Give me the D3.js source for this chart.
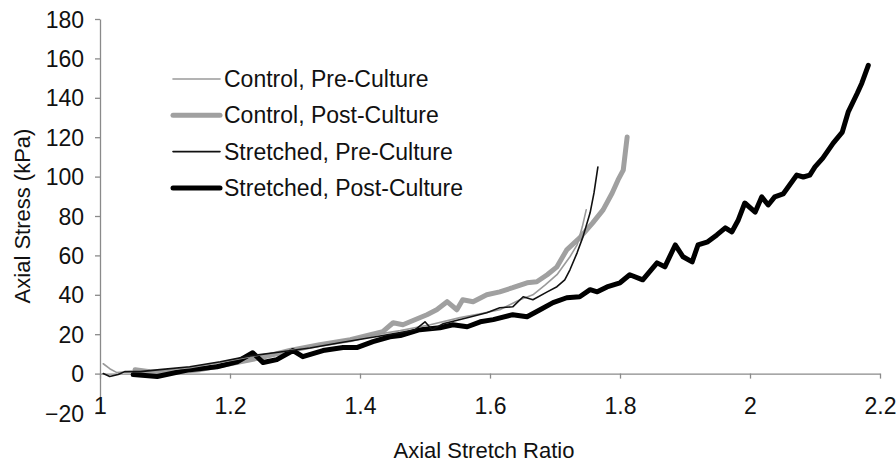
<!DOCTYPE html>
<html lang="en">
<head>
    <meta charset="utf-8">
    <title>Axial stress vs stretch</title>
    <style type="text/css">
        body { margin: 0; background: #fff; }
        .chart text {
            font-family: "Liberation Sans", Arial, sans-serif;
            font-size: 23px;
            fill: #111;
        }
        .chart .axis path, .chart .axis line {
            stroke: #8a8a8a;
            stroke-width: 1.3;
        }
        .chart .series {
            fill: none;
            stroke-linejoin: round;
            stroke-linecap: round;
        }
    </style>
</head>
<body>
<svg class="chart" width="896" height="466"></svg>
<script src="https://d3js.org/d3.v7.min.js"></script>
<script>
    // tick values
    var xTicks = [1, 1.2, 1.4, 1.6, 1.8, 2, 2.2];
    var yTicks = [-20, 0, 20, 40, 60, 80, 100, 120, 140, 160, 180];

    // series names (legend order)
    var seriesNames = ['Control, Pre-Culture', 'Control, Post-Culture', 'Stretched, Pre-Culture', 'Stretched, Post-Culture'];

    // Control, Pre-Culture
    var controlPreX = [1.005, 1.015, 1.026, 1.046, 1.092, 1.138, 1.185, 1.231, 1.277, 1.323, 1.369, 1.415, 1.462, 1.508, 1.554, 1.585, 1.615, 1.646, 1.666, 1.685, 1.703, 1.723, 1.734, 1.742, 1.748];
    var controlPreY = [5, 2.5, 0.5, 1, 1.5, 3, 5.6, 8.6, 11, 13.7, 16.7, 19.3, 21.8, 24.8, 28.4, 30.4, 32.4, 37.5, 40, 45, 50.2, 59.3, 65.3, 74.5, 83.1];

    // Control, Post-Culture
    var controlPostX = [1.054, 1.077, 1.108, 1.154, 1.2, 1.246, 1.292, 1.338, 1.385, 1.435, 1.451, 1.466, 1.477, 1.503, 1.518, 1.534, 1.549, 1.558, 1.574, 1.595, 1.615, 1.635, 1.657, 1.672, 1.688, 1.703, 1.718, 1.738, 1.758, 1.774, 1.788, 1.797, 1.805, 1.811];
    var controlPostY = [2, 1, 0.5, 2, 5, 8, 11.7, 14.7, 17.2, 21.3, 25.8, 24.8, 26.3, 29.9, 32.4, 36.5, 32.4, 37.5, 36.5, 40, 41.5, 43.6, 46.1, 46.6, 50.2, 54.2, 62.8, 68.9, 76.5, 83.1, 91.7, 98.3, 103.3, 120.1];

    // Stretched, Pre-Culture
    var stretchedPreX = [1.005, 1.015, 1.028, 1.038, 1.062, 1.092, 1.138, 1.185, 1.231, 1.277, 1.323, 1.369, 1.415, 1.462, 1.485, 1.5, 1.511, 1.528, 1.565, 1.595, 1.615, 1.635, 1.651, 1.666, 1.688, 1.703, 1.715, 1.723, 1.734, 1.743, 1.754, 1.76, 1.766];
    var stretchedPreY = [0, -1.5, -0.5, 1, 1, 2, 3.5, 6, 9, 11, 13, 15.7, 18.2, 20.8, 22.3, 26.3, 22.3, 25.3, 28.4, 30.9, 33.4, 33.9, 39, 37.5, 41.5, 44.1, 47.6, 52.7, 61.3, 69.4, 81.6, 91.7, 104.9];

    // Stretched, Post-Culture
    var stretchedPostX = [1.051, 1.088, 1.138, 1.18, 1.211, 1.235, 1.251, 1.272, 1.297, 1.312, 1.343, 1.374, 1.395, 1.42, 1.446, 1.462, 1.492, 1.523, 1.543, 1.565, 1.585, 1.605, 1.635, 1.657, 1.677, 1.697, 1.718, 1.738, 1.754, 1.765, 1.78, 1.8, 1.815, 1.835, 1.857, 1.869, 1.885, 1.897, 1.911, 1.92, 1.935, 1.949, 1.962, 1.972, 1.982, 1.992, 2.008, 2.018, 2.028, 2.038, 2.051, 2.072, 2.082, 2.092, 2.1, 2.112, 2.128, 2.142, 2.151, 2.165, 2.172, 2.182];
    var stretchedPostY = [-0.5, -1.5, 2, 3.5, 6, 10.6, 5.6, 7.1, 11.7, 8.6, 11.7, 13.2, 13.2, 16.2, 18.7, 19.3, 22.3, 23.3, 24.8, 23.8, 26.3, 27.4, 29.9, 28.9, 32.4, 36, 38.5, 39, 42.6, 41.5, 44, 46.1, 50.2, 47.6, 56.2, 54.2, 65.3, 59.3, 56.7, 65.3, 66.9, 70.4, 74, 71.9, 78, 86.6, 82, 89.7, 85.6, 89.7, 91.2, 100.8, 99.8, 100.8, 104.9, 109.4, 117, 122.6, 132.7, 142.3, 147.4, 156.5];

    // line styles
    var styles = [
        {color: '#9a9a9a', width: 1.6},
        {color: '#a0a0a0', width: 5},
        {color: '#111111', width: 1.6},
        {color: '#000000', width: 5}
    ];

    var svg = d3.select('.chart');
    var plot = {left: 100, right: 880, top: 19, bottom: 413};

    // scales
    var x = d3.scaleLinear().domain([1, 2.2]).range([plot.left, plot.right]);
    var y = d3.scaleLinear().domain([-20, 180]).range([plot.bottom, plot.top]);

    // y axis
    svg.append('g')
        .attr('class', 'axis')
        .attr('transform', 'translate(' + plot.left + ',0)')
        .call(d3.axisLeft(y).tickValues(yTicks).tickSize(5).tickPadding(11).tickSizeOuter(0))
        .selectAll('text')
        .attr('dy', '0.35em');

    // x axis sits on y = 0, labels low
    svg.append('g')
        .attr('class', 'axis')
        .attr('transform', 'translate(0,' + y(0) + ')')
        .call(d3.axisBottom(x).tickValues(xTicks).tickFormat(d3.format('')).tickSize(5).tickPadding(19).tickSizeOuter(0));

    svg.selectAll('.axis .domain').attr('stroke', '#8a8a8a');
    svg.selectAll('.axis text').attr('fill', '#111').style('font-size', '23px');

    // curves
    var line = d3.line()
        .x(function(d) { return x(d[0]); })
        .y(function(d) { return y(d[1]); });

    var series = [
        d3.zip(controlPreX, controlPreY),
        d3.zip(controlPostX, controlPostY),
        d3.zip(stretchedPreX, stretchedPreY),
        d3.zip(stretchedPostX, stretchedPostY)
    ];

    // thin lines drawn over the thick ones
    var drawOrder = [1, 3, 0, 2];
    drawOrder.forEach(function(i) {
        svg.append('path')
            .datum(series[i])
            .attr('class', 'series')
            .attr('stroke', styles[i].color)
            .attr('stroke-width', styles[i].width)
            .attr('d', line);
    });

    // legend
    var legend = svg.append('g').attr('transform', 'translate(173,79)');
    seriesNames.forEach(function(name, i) {
        var row = legend.append('g').attr('transform', 'translate(0,' + (i * 36.3) + ')');
        row.append('line')
            .attr('x1', 0).attr('x2', 47)
            .attr('stroke', styles[i].color)
            .attr('stroke-width', styles[i].width)
            .attr('stroke-linecap', 'round');
        row.append('text')
            .attr('x', 51)
            .attr('dy', '0.35em')
            .text(name);
    });

    // axis titles
    svg.append('text')
        .attr('x', 484)
        .attr('y', 450)
        .attr('text-anchor', 'middle')
        .attr('dy', '0.35em')
        .style('font-size', '22px')
        .text('Axial Stretch Ratio');

    svg.append('text')
        .attr('transform', 'translate(22,216) rotate(-90)')
        .attr('text-anchor', 'middle')
        .attr('dy', '0.35em')
        .style('font-size', '22px')
        .text('Axial Stress (kPa)');
</script>
</body>
</html>
